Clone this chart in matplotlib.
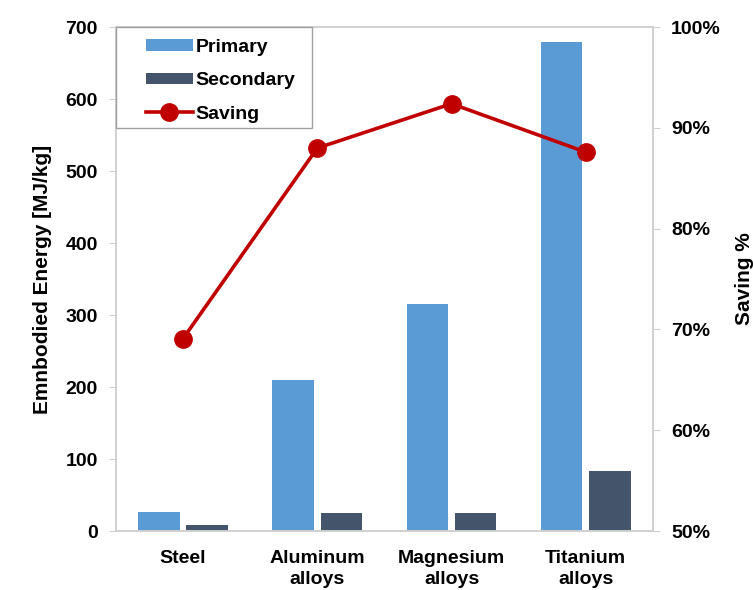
import numpy as np
import matplotlib.pyplot as plt
from matplotlib.patches import Rectangle
from matplotlib.ticker import FuncFormatter

plt.rcParams['font.family'] = ['Liberation Sans', 'DejaVu Sans']
plt.rcParams['font.weight'] = 'bold'

materials = ['Steel', 'Aluminum\nalloys', 'Magnesium\nalloys', 'Titanium\nalloys']
primary = [26, 210, 315, 680]
secondary = [9, 25, 25, 83]
saving = [69.1, 88.0, 92.4, 87.6]

c_primary = '#5B9BD5'
c_secondary = '#44546A'
c_saving = '#C00000'
c_frame = '#D0D0D0'

fig = plt.figure(figsize=(7.53, 5.90), dpi=100)
ax = fig.add_axes([0.154, 0.10, 0.713, 0.854])
ax2 = ax.twinx()

x = np.arange(len(materials))
w = 0.31
b1 = ax.bar(x - 0.18, primary, w, color=c_primary, label='Primary', zorder=2)
b2 = ax.bar(x + 0.18, secondary, w, color=c_secondary, label='Secondary', zorder=2)
ln, = ax2.plot(x, saving, color=c_saving, lw=2.6, marker='o', ms=12.5,
               label='Saving', zorder=3)

ax.set_xlim(-0.5, 3.5)
ax.set_ylim(0, 700)
ax.set_yticks(range(0, 701, 100))
ax2.set_ylim(50, 100)
ax2.set_yticks(range(50, 101, 10))
ax2.yaxis.set_major_formatter(FuncFormatter(lambda v, p: f'{v:.0f}%'))

ax.set_xticks(x)
ax.set_xticklabels(materials, fontsize=14, fontweight='bold', linespacing=1.3)
ax.tick_params(axis='x', length=0, pad=14)
ax.tick_params(axis='y', labelsize=14, length=5, color=c_frame, pad=8)
ax2.tick_params(axis='y', labelsize=14, length=5, color=c_frame, pad=8)

for a in (ax, ax2):
    for s in a.spines.values():
        s.set_color(c_frame)
        s.set_linewidth(1.2)

ax.set_ylabel('Emnbodied Energy [MJ/kg]', fontsize=15, fontweight='bold', labelpad=10)
ax2.set_ylabel('Saving %', fontsize=15, fontweight='bold', labelpad=10)

# legend box drawn separately so the entries can sit inset from its edge
ax2.add_patch(Rectangle((0, 0.8), 0.365, 0.2, transform=ax2.transAxes,
                        facecolor='white', edgecolor='#A0A0A0', lw=1.0,
                        zorder=4, clip_on=False))
leg = ax2.legend([b1, b2, ln], ['Primary', 'Secondary', 'Saving'],
                 loc='upper left', bbox_to_anchor=(0.056, 0.977), fontsize=14,
                 frameon=False, borderaxespad=0, borderpad=0,
                 handlelength=2.4, handleheight=0.55, handletextpad=0.15,
                 labelspacing=0.85)
leg.set_zorder(5)

fig.savefig('out.png', dpi=100)
